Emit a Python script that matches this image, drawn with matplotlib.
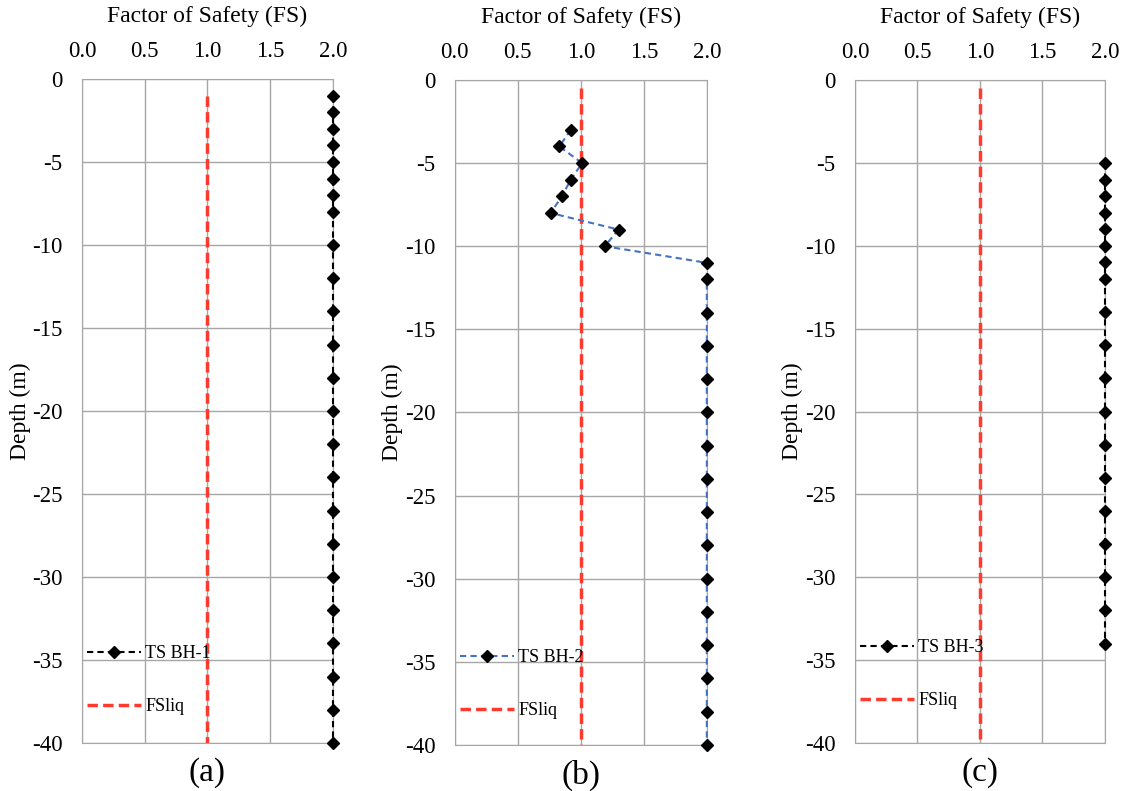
import matplotlib
matplotlib.use("Agg")
import matplotlib.pyplot as plt

plt.rcParams['font.family'] = ['Liberation Serif', 'DejaVu Serif']
plt.rcParams['axes.unicode_minus'] = False

# depths (m) and factor of safety per borehole
depth_bh1 = [-1, -2, -3, -4, -5, -6, -7, -8, -10, -12, -14, -16, -18, -20,
             -22, -24, -26, -28, -30, -32, -34, -36, -38, -40]
fs_bh1 = [2.0] * len(depth_bh1)

depth_bh2 = [-3, -4, -5, -6, -7, -8, -9, -10, -11, -12, -14, -16, -18, -20,
             -22, -24, -26, -28, -30, -32, -34, -36, -38, -40]
fs_bh2 = [0.92, 0.83, 1.01, 0.92, 0.85, 0.76, 1.30, 1.19, 2.0, 2.0, 2.0, 2.0,
          2.0, 2.0, 2.0, 2.0, 2.0, 2.0, 2.0, 2.0, 2.0, 2.0, 2.0, 2.0]

depth_bh3 = [-5, -6, -7, -8, -9, -10, -11, -12, -14, -16, -18, -20, -22,
             -24, -26, -28, -30, -32, -34]
fs_bh3 = [2.0] * len(depth_bh3)

# FSliq = 1 reference line
liq_depth = [[-1, -40], [-0.5, -40], [-0.5, -40]]
liq_fs = [1.0, 1.0]

labels = ['TS BH-1', 'TS BH-2', 'TS BH-3']
captions = ['(a)', '(b)', '(c)']
line_colors = ['black', '#4472C4', 'black']
x_ticks = [0.0, 0.5, 1.0, 1.5, 2.0]
y_ticks = [0, -5, -10, -15, -20, -25, -30, -35, -40]

positions = [[0.073, 0.0607, 0.2235, 0.8394],
             [0.405, 0.0582, 0.2244, 0.8407],
             [0.7613, 0.0607, 0.2226, 0.838]]
legend_y = [0.158, 0.155, 0.168]

fig = plt.figure(figsize=(11.23, 7.91), dpi=100)
data = [(depth_bh1, fs_bh1), (depth_bh2, fs_bh2), (depth_bh3, fs_bh3)]

for i, (d, fs) in enumerate(data):
    ax = fig.add_axes(positions[i])
    ax.plot(fs, d, linestyle='--', color=line_colors[i], lw=1.5,
            marker='D', markersize=6.5, markerfacecolor='black',
            markeredgecolor='black', label=labels[i], zorder=3,
            dashes=(3, 2), clip_on=False)
    ax.plot(liq_fs, liq_depth[i], linestyle='--', color='#FF3B30', lw=2.5,
            label='FSliq', zorder=2, dashes=(3, 1.5))
    ax.set_xlim(0, 2.0)
    ax.set_ylim(-40, 0)
    ax.set_xticks(x_ticks)
    ax.set_yticks(y_ticks)
    ax.set_xticklabels(['%.1f' % t for t in x_ticks])
    ax.xaxis.tick_top()
    ax.xaxis.set_label_position('top')
    ax.tick_params(length=0, labelsize=16.5, pad=12)
    ax.tick_params(axis='y', pad=14)
    ax.grid(True, color='#A6A6A6', lw=1)
    for s in ax.spines.values():
        s.set_color('#A6A6A6')
    ax.set_xlabel('Factor of Safety (FS)', fontsize=17, labelpad=14)
    ax.set_ylabel('Depth (m)', fontsize=17, labelpad=1)
    ax.legend(loc='upper left', bbox_to_anchor=(-0.01, legend_y[i]),
              frameon=False, fontsize=13, handlelength=3.0,
              handletextpad=0.25, labelspacing=2.0, borderaxespad=0)
    ax.text(0.5, -0.022, captions[i], transform=ax.transAxes, ha='center',
            va='top', fontsize=24)

plt.savefig('out.png', dpi=100)
